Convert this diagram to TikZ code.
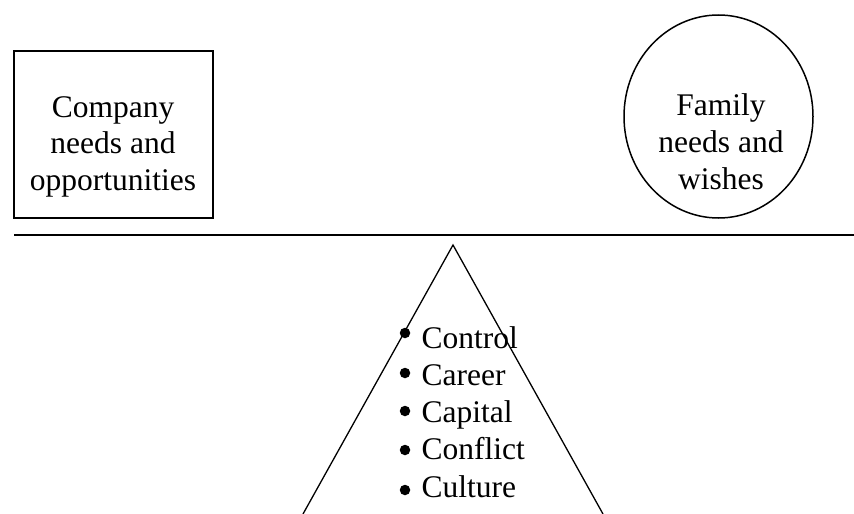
\documentclass[tikz,border=0pt]{standalone}
\usepackage{fontspec}
\setmainfont{Liberation Serif}
\usetikzlibrary{shapes.geometric}
\begin{document}
\begin{tikzpicture}[x=1pt,y=-1pt,
  txt/.style={font=\fontsize{31.5}{36}\selectfont, inner sep=0pt, anchor=base},
  itemtxt/.style={txt, anchor=base west},
  bulletdot/.style={circle, fill=black, inner sep=0pt, minimum size=10.5pt},
  frame/.style={draw, line width=1.5pt, inner sep=0pt}]
\useasboundingbox (0,0) rectangle (854,514);

% company side of the balance
\node[frame, rectangle, minimum width=199pt, minimum height=167pt] (company) at (113.5,134.5) {};
\node[txt] (c1) at (113,117) {Company};
\node[txt] (c2) at (113,153.5) {needs and};
\node[txt] (c3) at (113,190) {opportunities};

% family side of the balance
\node[frame, ellipse, minimum width=189pt, minimum height=203pt] (family) at (718.5,116.5) {};
\node[txt] (f1) at (721,115) {Family};
\node[txt] (f2) at (721,152) {needs and};
\node[txt] (f3) at (721,189) {wishes};

% beam
\coordinate (beamL) at (14,235);
\coordinate (beamR) at (854,235);
\draw[line width=2pt] (beamL) -- (beamR);

% fulcrum
\coordinate (apex) at (453,245);
\coordinate (baseL) at (303,514);
\coordinate (baseR) at (603,514);
\draw[line width=1.3pt] (baseL) -- (apex) -- (baseR);

% the five C's
\foreach \w/\by [count=\i] in {Control/333,Career/373,Capital/411,Conflict/450,Culture/490}{
  \node[bulletdot] (b\i) at (405,\by) {};
  \node[itemtxt] (w\i) at (421.5,348+37.25*\i-37.25) {\w};
}
\end{tikzpicture}
\end{document}
